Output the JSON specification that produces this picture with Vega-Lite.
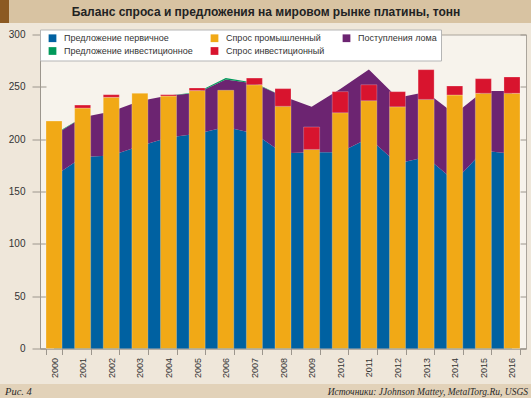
{
  "$schema": "https://vega.github.io/schema/vega-lite/v6.json",
  "padding": 0,
  "background": "#efe7da",
  "spacing": 5.5,
  "resolve": {"legend": {"color": "independent"}},
  "config": {"view": {"stroke": null}, "font": "Liberation Sans"},
  "datasets": {
    "areas": [
      {"year": "2000", "series": "Предложение первичное", "v": 164.5, "ord": 1},
      {"year": "2001", "series": "Предложение первичное", "v": 183, "ord": 1},
      {"year": "2002", "series": "Предложение первичное", "v": 184.5, "ord": 1},
      {"year": "2003", "series": "Предложение первичное", "v": 193.5, "ord": 1},
      {"year": "2004", "series": "Предложение первичное", "v": 201.5, "ord": 1},
      {"year": "2005", "series": "Предложение первичное", "v": 205.2, "ord": 1},
      {"year": "2006", "series": "Предложение первичное", "v": 211.7, "ord": 1},
      {"year": "2007", "series": "Предложение первичное", "v": 205.5, "ord": 1},
      {"year": "2008", "series": "Предложение первичное", "v": 186.5, "ord": 1},
      {"year": "2009", "series": "Предложение первичное", "v": 187.5, "ord": 1},
      {"year": "2010", "series": "Предложение первичное", "v": 187.6, "ord": 1},
      {"year": "2011", "series": "Предложение первичное", "v": 201, "ord": 1},
      {"year": "2012", "series": "Предложение первичное", "v": 176.7, "ord": 1},
      {"year": "2013", "series": "Предложение первичное", "v": 183, "ord": 1},
      {"year": "2014", "series": "Предложение первичное", "v": 160, "ord": 1},
      {"year": "2015", "series": "Предложение первичное", "v": 189, "ord": 1},
      {"year": "2016", "series": "Предложение первичное", "v": 186.2, "ord": 1},
      {"year": "2000", "series": "Поступления лома", "v": 39.3, "ord": 2},
      {"year": "2001", "series": "Поступления лома", "v": 38, "ord": 2},
      {"year": "2002", "series": "Поступления лома", "v": 42, "ord": 2},
      {"year": "2003", "series": "Поступления лома", "v": 43, "ord": 2},
      {"year": "2004", "series": "Поступления лома", "v": 40.3, "ord": 2},
      {"year": "2005", "series": "Поступления лома", "v": 38.8, "ord": 2},
      {"year": "2006", "series": "Поступления лома", "v": 45.3, "ord": 2},
      {"year": "2007", "series": "Поступления лома", "v": 47.7, "ord": 2},
      {"year": "2008", "series": "Поступления лома", "v": 54.5, "ord": 2},
      {"year": "2009", "series": "Поступления лома", "v": 43.5, "ord": 2},
      {"year": "2010", "series": "Поступления лома", "v": 60.4, "ord": 2},
      {"year": "2011", "series": "Поступления лома", "v": 65.5, "ord": 2},
      {"year": "2012", "series": "Поступления лома", "v": 62.8, "ord": 2},
      {"year": "2013", "series": "Поступления лома", "v": 62, "ord": 2},
      {"year": "2014", "series": "Поступления лома", "v": 64, "ord": 2},
      {"year": "2015", "series": "Поступления лома", "v": 57, "ord": 2},
      {"year": "2016", "series": "Поступления лома", "v": 59.8, "ord": 2},
      {"year": "2000", "series": "Предложение инвестиционное", "v": 0.8, "ord": 3},
      {"year": "2001", "series": "Предложение инвестиционное", "v": 0, "ord": 3},
      {"year": "2002", "series": "Предложение инвестиционное", "v": 0, "ord": 3},
      {"year": "2003", "series": "Предложение инвестиционное", "v": 0, "ord": 3},
      {"year": "2004", "series": "Предложение инвестиционное", "v": 0, "ord": 3},
      {"year": "2005", "series": "Предложение инвестиционное", "v": 0.8, "ord": 3},
      {"year": "2006", "series": "Предложение инвестиционное", "v": 1.5, "ord": 3},
      {"year": "2007", "series": "Предложение инвестиционное", "v": 0.8, "ord": 3},
      {"year": "2008", "series": "Предложение инвестиционное", "v": 0, "ord": 3},
      {"year": "2009", "series": "Предложение инвестиционное", "v": 0, "ord": 3},
      {"year": "2010", "series": "Предложение инвестиционное", "v": 0, "ord": 3},
      {"year": "2011", "series": "Предложение инвестиционное", "v": 0, "ord": 3},
      {"year": "2012", "series": "Предложение инвестиционное", "v": 0, "ord": 3},
      {"year": "2013", "series": "Предложение инвестиционное", "v": 0, "ord": 3},
      {"year": "2014", "series": "Предложение инвестиционное", "v": 0, "ord": 3},
      {"year": "2015", "series": "Предложение инвестиционное", "v": 0, "ord": 3},
      {"year": "2016", "series": "Предложение инвестиционное", "v": 0, "ord": 3}
    ],
    "bars": [
      {"year": "2000", "series": "Спрос промышленный", "v": 217.3, "ord": 1},
      {"year": "2001", "series": "Спрос промышленный", "v": 229.7, "ord": 1},
      {"year": "2002", "series": "Спрос промышленный", "v": 240, "ord": 1},
      {"year": "2003", "series": "Спрос промышленный", "v": 243.8, "ord": 1},
      {"year": "2004", "series": "Спрос промышленный", "v": 241.2, "ord": 1},
      {"year": "2005", "series": "Спрос промышленный", "v": 246.4, "ord": 1},
      {"year": "2006", "series": "Спрос промышленный", "v": 246.7, "ord": 1},
      {"year": "2007", "series": "Спрос промышленный", "v": 252, "ord": 1},
      {"year": "2008", "series": "Спрос промышленный", "v": 231.4, "ord": 1},
      {"year": "2009", "series": "Спрос промышленный", "v": 190.2, "ord": 1},
      {"year": "2010", "series": "Спрос промышленный", "v": 225.3, "ord": 1},
      {"year": "2011", "series": "Спрос промышленный", "v": 236.8, "ord": 1},
      {"year": "2012", "series": "Спрос промышленный", "v": 231, "ord": 1},
      {"year": "2013", "series": "Спрос промышленный", "v": 238, "ord": 1},
      {"year": "2014", "series": "Спрос промышленный", "v": 242.2, "ord": 1},
      {"year": "2015", "series": "Спрос промышленный", "v": 243.8, "ord": 1},
      {"year": "2016", "series": "Спрос промышленный", "v": 243.8, "ord": 1},
      {"year": "2001", "series": "Спрос инвестиционный", "v": 2.9, "ord": 2},
      {"year": "2002", "series": "Спрос инвестиционный", "v": 2.5, "ord": 2},
      {"year": "2004", "series": "Спрос инвестиционный", "v": 1.3, "ord": 2},
      {"year": "2005", "series": "Спрос инвестиционный", "v": 2.5, "ord": 2},
      {"year": "2007", "series": "Спрос инвестиционный", "v": 6.4, "ord": 2},
      {"year": "2008", "series": "Спрос инвестиционный", "v": 16.9, "ord": 2},
      {"year": "2009", "series": "Спрос инвестиционный", "v": 21.4, "ord": 2},
      {"year": "2010", "series": "Спрос инвестиционный", "v": 20.1, "ord": 2},
      {"year": "2011", "series": "Спрос инвестиционный", "v": 15.2, "ord": 2},
      {"year": "2012", "series": "Спрос инвестиционный", "v": 14.4, "ord": 2},
      {"year": "2013", "series": "Спрос инвестиционный", "v": 28.4, "ord": 2},
      {"year": "2014", "series": "Спрос инвестиционный", "v": 8.6, "ord": 2},
      {"year": "2015", "series": "Спрос инвестиционный", "v": 14, "ord": 2},
      {"year": "2016", "series": "Спрос инвестиционный", "v": 15.6, "ord": 2}
    ]
  },
  "vconcat": [
    {
      "hconcat": [
        {
          "width": 9, "height": 23,
          "view": {"fill": "#8c5a22", "stroke": null},
          "data": {"values": [{"t": ""}]},
          "mark": {"type": "text"},
          "encoding": {"text": {"field": "t"}}
        },
        {
          "width": 522, "height": 23,
          "view": {"fill": "#d8c3a2", "stroke": null},
          "data": {"values": [{"t": "Баланс спроса и предложения на мировом рынке платины, тонн"}]},
          "mark": {"type": "text", "font": "Liberation Sans", "fontWeight": "bold", "fontSize": 12, "color": "#222222", "dx": -4},
          "encoding": {"text": {"field": "t"}}
        }
      ],
      "spacing": 0,
      "bounds": "flush"
    },
    {
      "hconcat": [
        {
          "width": 40, "height": 343,
          "data": {"values": [{"t": ""}]},
          "mark": {"type": "text"},
          "encoding": {"text": {"field": "t"}}
        },
        {
          "width": 486, "height": 314,
          "view": {"fill": "#f7f3ec", "stroke": "#aaa49b", "strokeWidth": 1},
          "encoding": {
            "x": {
              "field": "year", "type": "ordinal",
              "scale": {"paddingInner": 0.44, "paddingOuter": 0.21},
              "axis": {
                "title": null, "labelAngle": -90, "tickBand": "extent", "tickSize": 6,
                "labelFontSize": 9, "labelPadding": 3, "labelColor": "#333333",
                "domainColor": "#9c968d", "tickColor": "#9c968d", "labelFont": "Liberation Sans"
              }
            },
            "y": {
              "field": "v", "type": "quantitative", "stack": "zero",
              "scale": {"domain": [0, 300], "nice": false},
              "axis": {
                "title": null, "values": [0, 50, 100, 150, 200, 250, 300], "tickSize": 8,
                "labelPadding": 7, "labelFontSize": 10, "labelColor": "#333333",
                "domainColor": "#9c968d", "tickColor": "#9c968d",
                "grid": true, "gridColor": "#9c968d", "gridDash": [6, 474, 6, 1000],
                "labelFont": "Liberation Sans"
              }
            },
            "color": {
              "field": "series", "type": "nominal",
              "scale": {
                "domain": ["Предложение первичное", "Предложение инвестиционное", "Спрос промышленный", "Спрос инвестиционный", "Поступления лома"],
                "range": ["#0061a1", "#00995a", "#f1a916", "#d8142e", "#6c2471"]
              },
              "legend": {
                "title": null, "orient": "none", "legendX": 0, "legendY": -5, "columns": 3,
                "padding": 4, "fillColor": "#ffffff", "strokeColor": "#b5b5b5", "cornerRadius": 0,
                "symbolType": "square", "symbolSize": 60, "symbolStrokeWidth": 0, "symbolOffset": 4,
                "labelOffset": 7, "labelFontSize": 9, "labelFont": "Liberation Sans", "labelColor": "#333333",
                "rowPadding": 3, "columnPadding": 13, "labelLimit": 300
              }
            },
            "order": {"field": "ord", "type": "quantitative"}
          },
          "layer": [
            {"data": {"name": "areas"}, "mark": {"type": "area", "opacity": 1}},
            {"data": {"name": "bars"}, "mark": {"type": "bar", "opacity": 1, "stroke": "#ffffff", "strokeOpacity": 0.35, "strokeWidth": 0.7}}
          ]
        }
      ],
      "spacing": 0,
      "bounds": "flush",
      "resolve": {"legend": {"color": "independent"}}
    },
    {
      "width": 531, "height": 15.5,
      "view": {"fill": "#e2d2b9", "stroke": null},
      "layer": [
        {
          "data": {"values": [{"t": "Рис. 4"}]},
          "mark": {"type": "text", "font": "Liberation Serif", "fontStyle": "italic", "fontSize": 10.5, "color": "#2a2a2a", "align": "left", "dx": 5},
          "encoding": {
            "x": {"datum": 0, "type": "quantitative", "scale": {"domain": [0, 1]}, "axis": null},
            "text": {"field": "t"}
          }
        },
        {
          "data": {"values": [{"t": "Источники: JJohnson Mattey, MetalTorg.Ru, USGS"}]},
          "mark": {"type": "text", "font": "Liberation Serif", "fontStyle": "italic", "fontSize": 9.5, "color": "#2a2a2a", "align": "right", "dx": -3},
          "encoding": {
            "x": {"datum": 1, "type": "quantitative", "scale": {"domain": [0, 1]}, "axis": null},
            "text": {"field": "t"}
          }
        }
      ]
    }
  ]
}
